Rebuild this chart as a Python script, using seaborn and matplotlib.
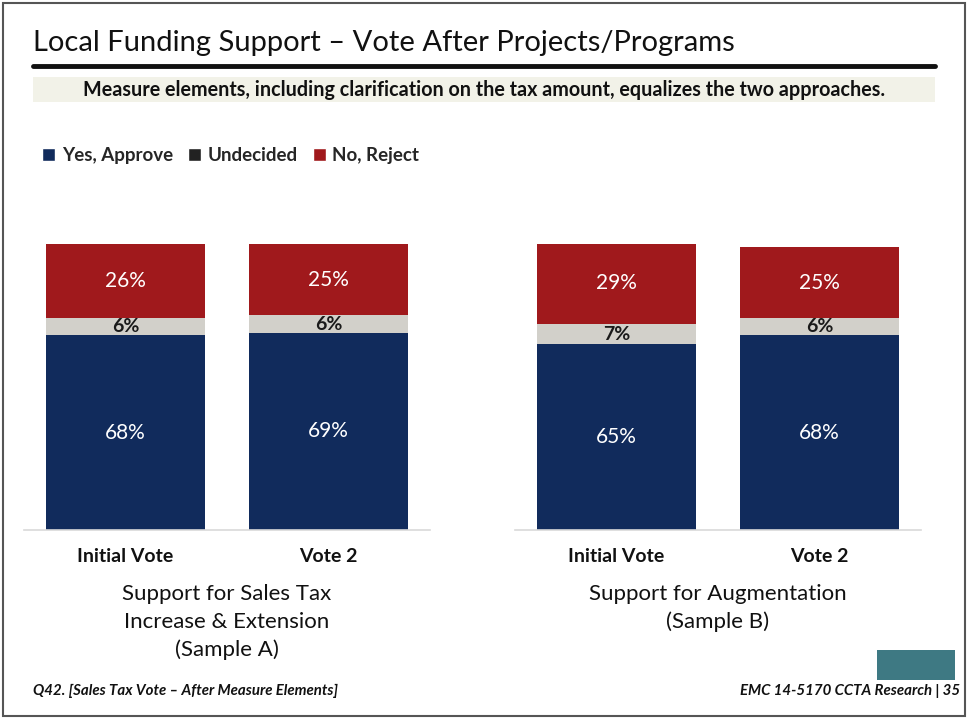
import matplotlib
matplotlib.use("Agg")
import matplotlib.pyplot as plt
from matplotlib.patches import Patch, Rectangle
from matplotlib.lines import Line2D
import seaborn as sns
import pandas as pd

sns.set_theme(style="white")
plt.rcParams["font.family"] = ["Lato", "DejaVu Sans"]

# Survey results (percent)
votes = ["Initial Vote", "Vote 2"]
yes_a = [68, 69]
undecided_a = [6, 6]
no_a = [26, 25]
yes_b = [65, 68]
undecided_b = [7, 6]
no_b = [29, 25]

series_names = ["Yes, Approve", "Undecided", "No, Reject"]
group_titles = ["Support for Sales Tax\nIncrease & Extension\n(Sample A)",
                "Support for Augmentation\n(Sample B)"]

BLUE = "#112b5c"
GREY = "#d2d0ca"
RED = "#a0191c"
LEGEND_DARK = "#222222"

fig = plt.figure(figsize=(9.68, 7.19), dpi=100)

# Slide frame
fig.patches.append(Rectangle((0.003, 0.004), 0.994, 0.992, transform=fig.transFigure,
                             fill=False, edgecolor="#555555", linewidth=1.5))

fig.text(0.034, 0.940, "Local Funding Support \u2013 Vote After Projects/Programs",
         fontsize=21, color="#111111", va="center", ha="left")
fig.add_artist(Line2D([0.034, 0.966], [0.908, 0.908], transform=fig.transFigure,
                      color="#111111", linewidth=3.5))
fig.patches.append(Rectangle((0.034, 0.858), 0.932, 0.035, transform=fig.transFigure,
                             facecolor="#f2f2e8", edgecolor="none"))
fig.text(0.5, 0.875, "Measure elements, including clarification on the tax amount, equalizes the two approaches.",
         fontsize=14.2, fontweight="bold", color="#111111", va="center", ha="center")

handles = [Patch(facecolor=BLUE), Patch(facecolor=LEGEND_DARK), Patch(facecolor=RED)]
fig.legend(handles, series_names, loc="center left", bbox_to_anchor=(0.026, 0.784),
           ncol=3, frameon=False, handlelength=0.7, handleheight=0.7,
           handletextpad=0.35, columnspacing=0.8,
           prop={"size": 13.5, "weight": "bold"})


def draw_panel(rect, yes, und, no, title):
    ax = fig.add_axes(rect)
    df = pd.DataFrame({"vote": votes, "yes": yes, "und": und, "no": no})
    df["top"] = df["yes"] + df["und"] + df["no"]
    df["mid"] = df["yes"] + df["und"]
    # stacked bars drawn from the full total down to the base segment
    sns.barplot(data=df, x="vote", y="top", color=RED, width=0.78, saturation=1, ax=ax)
    sns.barplot(data=df, x="vote", y="mid", color=GREY, width=0.78, saturation=1, ax=ax)
    sns.barplot(data=df, x="vote", y="yes", color=BLUE, width=0.78, saturation=1, ax=ax)
    for p in ax.patches:
        p.set_linewidth(0)
    for i, r in df.iterrows():
        ax.text(i, r["yes"] / 2, f"{r['yes']}%", color="white", ha="center", va="center", fontsize=15)
        ax.text(i, r["yes"] + r["und"] / 2, f"{r['und']}%", color="#1a1a1a", ha="center",
                va="center", fontsize=14, fontweight="bold")
        ax.text(i, r["mid"] + r["no"] / 2, f"{r['no']}%", color="white", ha="center",
                va="center", fontsize=15)
    ax.set_xlim(-0.5, 1.5)
    ax.set_ylim(0, 100)
    ax.set_xlabel("")
    ax.set_ylabel("")
    ax.set_yticks([])
    for s in ["top", "left", "right"]:
        ax.spines[s].set_visible(False)
    ax.spines["bottom"].set_color("#d9d9d9")
    ax.spines["bottom"].set_linewidth(1.2)
    ax.tick_params(axis="x", length=0, pad=13)
    for lbl in ax.get_xticklabels():
        lbl.set_fontsize(14)
        lbl.set_fontweight("bold")
        lbl.set_color("#111111")
    ax.text(0.5, -0.19, title, transform=ax.transAxes, ha="center", va="top",
            fontsize=16, color="#111111", linespacing=1.45)
    return ax


draw_panel([0.0248, 0.2629, 0.4194, 0.3978], yes_a, undecided_a, no_a, group_titles[0])
draw_panel([0.532, 0.2629, 0.4194, 0.3978], yes_b, undecided_b, no_b, group_titles[1])

fig.text(0.034, 0.039, "Q42. [Sales Tax Vote \u2013 After Measure Elements]", fontsize=10.8,
         fontstyle="italic", fontweight="bold", color="#111111", va="center", ha="left")
fig.text(0.992, 0.039, "EMC 14-5170 CCTA Research | 35", fontsize=10.8,
         fontstyle="italic", fontweight="bold", color="#111111", va="center", ha="right")
fig.patches.append(Rectangle((0.906, 0.054), 0.081, 0.042, transform=fig.transFigure,
                             facecolor="#3e7983", edgecolor="none"))

fig.savefig("out.png", dpi=100)
